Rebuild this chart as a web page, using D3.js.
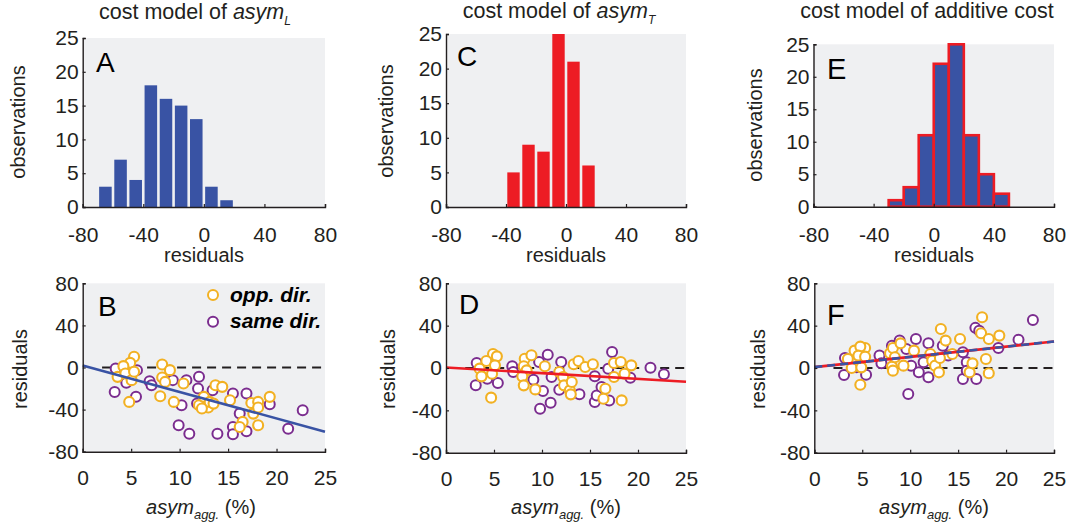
<!DOCTYPE html>
<html><head><meta charset="utf-8">
<script src="https://cdn.jsdelivr.net/npm/d3@7"></script>
<style>
body{margin:0;background:#fff;}
svg{display:block;font-family:"Liberation Sans",Arial,Helvetica,sans-serif;}
</style></head>
<body>
<svg id="chart" width="1070" height="529"></svg>
<script>
// ---------------- DATA ----------------
const histXTicks = [-80, -40, 0, 40, 80];
const histYTicks = [0, 5, 10, 15, 20, 25];
const scatXTicks = [0, 5, 10, 15, 20, 25];
const scatYTicks = [-80, -40, 0, 40, 80];

const binStartA = [-70, -60, -50, -40, -30, -20, -10, 0, 10];
const countsA   = [3, 7, 4, 18, 16, 15, 13, 3, 1];
const binStartC = [-40, -30, -20, -10, 0, 10];
const countsC   = [5, 9, 8, 25, 21, 6];
const binStartE = [-30, -20, -10, 0, 10, 20, 30, 40];
const countsE   = [1, 3, 11, 22, 25, 11, 5, 2];
const binWidth = 10;

const titles = ["cost model of ", "cost model of ", "cost model of additive cost"];

// panel B residuals (x = asym_agg %, y = residual)
const oppB = [[5.3,10.2],[4.9,4.4],[4.2,1.3],[3.6,-8.9],[4.4,-5.7],[5.05,-12],[5.3,-4.1],[4.8,-32.7],
  [8.2,2.9],[9.0,-2.5],[8.2,-9.5],[8.5,-13.7],[8.0,-27.3],[9.4,-32.7],[10.4,-15.2],[13.7,-16.8],
  [14.4,-18.4],[12.0,-35.9],[12.5,-27.9],[12.95,-38],[13.1,-32.7],[12.3,-39],[13.5,-34.3],[15.2,-31.1],
  [17.4,-33.7],[18.1,-32.7],[17.6,-43.8],[18.1,-38],[19.3,-27.9],[16.5,-51.7],[16.2,-56.5],[18.1,-54.9]];
const sameB = [[3.4,-1],[3.3,-23.2],[5.6,-2.5],[4.5,-14.6],[5.5,-27.9],[6.9,-13],[7.1,-16.8],[9.3,-12],
  [10.2,-35.9],[9.9,-54.9],[11.0,-62.9],[10.7,-12],[12.0,-8.9],[11.9,-20],[11.8,-34.3],[13.4,-21.6],
  [13.9,-62.9],[15.5,-24.8],[15.5,-56.5],[15.5,-63.5],[16.2,-43.8],[16.9,-24.8],[16.9,-60.6],
  [19.3,-34.9],[21.2,-58.1],[22.7,-40.6]];
// panel D residuals
const oppD = [[4.9,13.2],[5.3,11],[4.2,6.6],[3.5,-0.6],[3.7,-7.9],[4.8,-5.4],[5.1,2.5],[4.7,-28],
  [8.2,8.8],[8.9,12],[8.1,1.6],[8.4,-2.2],[7.95,-7.9],[8.1,-16.4],[9.3,-20.2],[10.3,1.6],[11.8,-3.8],
  [12.2,-8.5],[12.3,-16.4],[12.9,-21.1],[13.0,-24.9],[13.1,-13.2],[13.3,3.5],[13.8,6.6],[14.5,0.9],
  [15.3,3.5],[16.6,-19.6],[16.4,-29],[17.5,4.7],[17.5,-8.5],[18.2,5.7],[18.3,-30.6],[18.6,-5.4],[19.3,2.5]];
const sameD = [[3.2,4.7],[3.1,-16.4],[4.3,-10.1],[5.4,-14.2],[6.9,1.6],[7.0,-3.8],[9.7,5.7],[9.1,-11],
  [9.8,-38.5],[10.1,-21.8],[10.6,12.6],[11.0,-8.5],[10.9,-32.8],[12.0,5.7],[11.8,-20.5],[13.9,-24.9],
  [15.5,-7.9],[15.5,-32.2],[15.7,-25.9],[16.2,-18],[16.9,-0.6],[17.3,15.1],[17.0,-30.6],[19.2,-9.1],
  [21.3,0.3],[22.7,-6]];
// panel F residuals
const oppF = [[4.2,16.4],[5.3,18.9],[4.8,20.2],[3.5,8.5],[4.6,11.7],[5.3,10.7],[3.9,0],[4.9,0.6],
  [4.8,-15.8],[7.9,13.9],[8.2,18.9],[9.0,23.3],[8.1,1.3],[8.2,-2.5],[8.4,10.1],[9.3,2.2],[10.4,16.4],
  [12.1,13.2],[12.3,6.9],[12.6,2.2],[13.1,9.5],[13.0,-4.1],[13.2,36.9],[13.7,25.9],[14.4,13.2],
  [15.2,27.4],[16.2,-4.1],[16.5,4.4],[17.4,32.8],[17.5,48],[18.2,27.4],[17.9,8.5],[18.2,-5],[19.3,30.6]];
const sameF = [[3.2,9.5],[3.1,-6.6],[4.4,0.6],[5.4,-6.3],[6.8,11.7],[7.0,4.4],[8.1,21.1],[8.9,25.9],
  [9.6,18],[9.8,-24.6],[10.1,2.2],[10.6,27.4],[10.9,-4.1],[11.4,5.4],[11.9,-8.8],[11.9,23.3],[13.4,21.1],
  [13.96,11.7],[15.5,14.8],[15.5,-10.4],[15.9,5.4],[15.9,-2.5],[16.8,37.9],[16.9,-10.4],[17.2,35.3],
  [19.2,18.9],[21.3,26.8],[22.8,45.4]];

// regression fits (endpoints in data units)
const fitB = [[0, 2], [25, -61]];
const fitD = [[0, 0.5], [25, -13]];
const fitF = [[0, 0.8], [25, 25]];
const zeroRef = [[2, 0], [25, 0]];

const legendLabels = ["opp. dir.", "same dir."];

// ---------------- STYLE ----------------
const C = {
  bg: "#eff0f2", axis: "#231f20", blue: "#3953a4", red: "#ed1c24",
  orange: "#f2b123", purple: "#7b2d8f"
};
const svg = d3.select("#chart");
const FONT = 21;

function makePanel(box, xd, yd, xt, yt, xpad) {
  const x = d3.scaleLinear().domain(xd).range([box.x0, box.x1]);
  const y = d3.scaleLinear().domain(yd).range([box.y1, box.y0]);
  const g = svg.append("g");
  g.append("rect").attr("x", box.x0).attr("y", box.y0)
    .attr("width", box.x1 - box.x0).attr("height", box.y1 - box.y0).attr("fill", C.bg);
  const content = g.append("g");
  const ax = g.append("g");
  const fmt = d => String(d);
  const xa = ax.append("g").attr("transform", `translate(0,${box.y1})`)
    .call(d3.axisBottom(x).tickValues(xt).tickSize(-3).tickPadding(xpad).tickFormat(fmt));
  const ya = ax.append("g").attr("transform", `translate(${box.x0},0)`)
    .call(d3.axisLeft(y).tickValues(yt).tickSize(-3).tickPadding(4).tickFormat(fmt));
  [xa, ya].forEach(a => {
    a.select(".domain").attr("stroke", C.axis).attr("stroke-width", 1.4);
    a.selectAll(".tick line").attr("stroke", C.axis).attr("stroke-width", 1.2);
    a.selectAll("text").attr("fill", C.axis).style("font-size", FONT + "px")
      .style("font-family", '"Liberation Sans",Arial,sans-serif');
  });
  xa.selectAll("text").attr("dy", "0.71em");
  return {x, y, g, content, ax};
}

function panelLetter(txt, x, y, size) {
  svg.append("text").attr("x", x).attr("y", y).text(txt)
    .attr("fill", "#000").style("font-size", size + "px");
}
function yLabel(txt, x, cy) {
  svg.append("text").attr("transform", `translate(${x},${cy}) rotate(-90)`)
    .attr("text-anchor", "middle").attr("fill", C.axis).style("font-size", "20px").text(txt);
}
function xLabelPlain(txt, cx, y) {
  svg.append("text").attr("x", cx).attr("y", y).attr("text-anchor", "middle")
    .attr("fill", C.axis).style("font-size", "20px").text(txt);
}
function xLabelAsym(cx, y) {
  const t = svg.append("text").attr("x", cx).attr("y", y).attr("text-anchor", "middle")
    .attr("fill", C.axis).style("font-size", "20px");
  t.append("tspan").style("font-style", "italic").text("asym");
  t.append("tspan").style("font-style", "italic").style("font-size", "13px").attr("dy", 5).text("agg.");
  t.append("tspan").attr("dy", -5).text(" (%)");
}
function title(pre, sub, cx, y) {
  const t = svg.append("text").attr("x", cx).attr("y", y).attr("text-anchor", "middle")
    .attr("fill", C.axis).style("font-size", "21.5px");
  t.append("tspan").text(pre);
  if (sub) {
    t.append("tspan").style("font-style", "italic").text("asym");
    t.append("tspan").style("font-style", "italic").style("font-size", "12px").attr("dy", 6).text(sub);
  }
}

// ---------------- HISTOGRAMS ----------------
function hist(box, starts, counts, style) {
  const p = makePanel(box, [-80, 80], [0, 25], histXTicks, histYTicks, 20);
  const data = starts.map((s, i) => ({s, c: counts[i]}));
  const inset = style === "outline" ? 0 : 1.3;
  p.content.selectAll("rect").data(data).enter().append("rect")
    .attr("x", d => p.x(d.s) + inset)
    .attr("width", d => p.x(d.s + binWidth) - p.x(d.s) - 2 * inset)
    .attr("y", d => p.y(d.c))
    .attr("height", d => p.y(0) - p.y(d.c))
    .attr("fill", style === "red" ? C.red : C.blue)
    .attr("stroke", style === "outline" ? C.red : "none")
    .attr("stroke-width", style === "outline" ? 2.6 : 0);
  return p;
}

const boxA = {x0: 82.7, x1: 325, y0: 38, y1: 207};
const boxC = {x0: 446, x1: 686, y0: 34, y1: 207};
const boxE = {x0: 813.5, x1: 1054, y0: 44.3, y1: 206.7};
hist(boxA, binStartA, countsA, "blue");
hist(boxC, binStartC, countsC, "red");
hist(boxE, binStartE, countsE, "outline");

title(titles[0], "L", 195, 19);
title(titles[1], "T", 559, 18);
title(titles[2], null, 927, 18);

yLabel("observations", 25, 122);
yLabel("observations", 393, 121);
yLabel("observations", 762, 125);
xLabelPlain("residuals", 204, 262);
xLabelPlain("residuals", 566, 262);
xLabelPlain("residuals", 934, 262);

// ---------------- SCATTERS ----------------
function scatter(box, opp, same, fit, fitStyle) {
  const p = makePanel(box, [0, 25], [-80, 80], scatXTicks, scatYTicks, 18);
  const line = d3.line().x(d => p.x(d[0])).y(d => p.y(d[1]));
  p.content.append("path").attr("d", line(zeroRef)).attr("fill", "none")
    .attr("stroke", "#231f20").attr("stroke-width", 1.9).attr("stroke-dasharray", "9,6");
  p.content.selectAll("circle.same").data(same).enter().append("circle")
    .attr("cx", d => p.x(d[0])).attr("cy", d => p.y(d[1])).attr("r", 5)
    .attr("fill", "#fff").attr("stroke", C.purple).attr("stroke-width", 2);
  p.content.selectAll("circle.opp").data(opp).enter().append("circle")
    .attr("cx", d => p.x(d[0])).attr("cy", d => p.y(d[1])).attr("r", 5)
    .attr("fill", "#fff").attr("stroke", C.orange).attr("stroke-width", 2.1);
  if (fitStyle === "both") {
    p.content.append("path").attr("d", line(fit)).attr("fill", "none")
      .attr("stroke", C.red).attr("stroke-width", 2.6);
    p.content.append("path").attr("d", line(fit)).attr("fill", "none")
      .attr("stroke", C.blue).attr("stroke-width", 2.6).attr("stroke-dasharray", "8,5");
  } else {
    p.content.append("path").attr("d", line(fit)).attr("fill", "none")
      .attr("stroke", fitStyle === "red" ? C.red : C.blue).attr("stroke-width", 2.6);
  }
  return p;
}

const boxB = {x0: 82.7, x1: 325, y0: 283.3, y1: 451.7};
const boxD = {x0: 446, x1: 686, y0: 283.3, y1: 452.7};
const boxF = {x0: 814.3, x1: 1054, y0: 283.3, y1: 452.7};
scatter(boxB, oppB, sameB, fitB, "blue");
scatter(boxD, oppD, sameD, fitD, "red");
scatter(boxF, oppF, sameF, fitF, "both");

yLabel("residuals", 27, 369);
yLabel("residuals", 395, 369);
yLabel("residuals", 765, 369);
xLabelAsym(201, 514);
xLabelAsym(566, 514);
xLabelAsym(934, 514);

// legend in panel B
const legCol = [C.orange, C.purple];
legendLabels.forEach((lab, i) => {
  const cy = 295 + i * 26.7;
  svg.append("circle").attr("cx", 213).attr("cy", cy).attr("r", 5)
    .attr("fill", "#fff").attr("stroke", legCol[i]).attr("stroke-width", 2);
  svg.append("text").attr("x", 230).attr("y", cy + 6.5).text(lab)
    .style("font-size", "21px").style("font-weight", "bold").style("font-style", "italic")
    .attr("fill", "#000");
});

// panel letters
panelLetter("A", 96, 72, 28);
panelLetter("C", 457, 66, 28);
panelLetter("E", 827, 79, 29);
panelLetter("B", 98, 316, 28);
panelLetter("D", 459, 314, 28);
panelLetter("F", 827, 325, 29);
</script>
</body></html>
